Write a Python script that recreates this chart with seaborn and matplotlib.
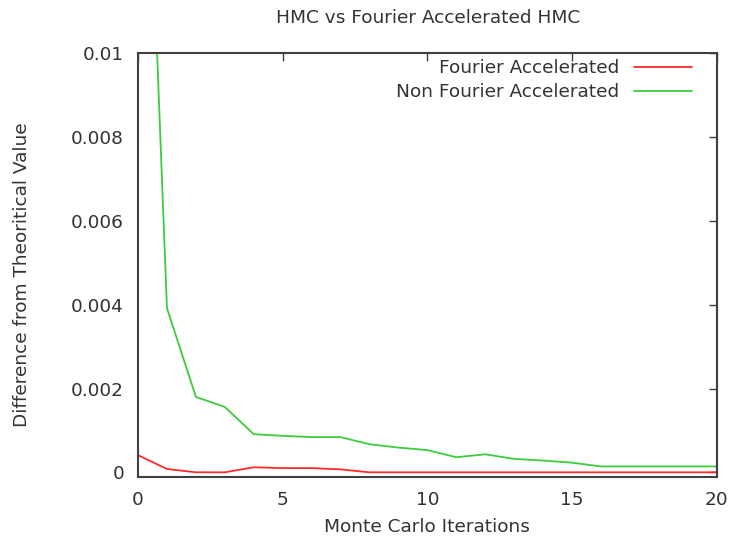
import matplotlib
matplotlib.use("Agg")
import matplotlib.pyplot as plt
import seaborn as sns
import pandas as pd

iterations = list(range(21))
fourier = [0.00041, 0.00008, 0.0, 0.0, 0.00012, 0.0001, 0.0001, 0.00007, 0.0, 0.0, 0.0,
           0.0, 0.0, 0.0, 0.0, 0.0, 0.0, 0.0, 0.0, 0.0, 0.0]
non_fourier = [0.0218, 0.00392, 0.0018, 0.00156, 0.00091, 0.00087, 0.00084, 0.00084, 0.00067,
               0.00059, 0.00053, 0.00036, 0.00043, 0.00032, 0.00028, 0.00023, 0.00014,
               0.00014, 0.00014, 0.00014, 0.00014]
series_names = ["Fourier Accelerated", "Non Fourier Accelerated"]
xticks = [0, 5, 10, 15, 20]
yticks = [0, 0.002, 0.004, 0.006, 0.008, 0.01]
ytick_labels = ["0", "0.002", "0.004", "0.006", "0.008", "0.01"]

df = pd.DataFrame({
    "x": iterations * 2,
    "y": fourier + non_fourier,
    "series": [series_names[0]] * len(iterations) + [series_names[1]] * len(iterations),
})

sns.set_style("white")
plt.rcParams["font.family"] = ["DejaVu Sans"]
FS = 13.3
TXT = "#333333"

fig = plt.figure(figsize=(7.31, 5.45), dpi=100)
ax = fig.add_axes([0.1888, 0.1253, 0.7916, 0.7769])
sns.lineplot(data=df, x="x", y="y", hue="series",
             palette={series_names[0]: "#ff2a2a", series_names[1]: "#3ccc3c"},
             linewidth=1.3, ax=ax)

ax.set_xlim(0, 20)
ax.set_ylim(-0.000105, 0.01)
ax.set_xticks(xticks)
ax.set_xticklabels([str(t) for t in xticks])
ax.set_yticks(yticks)
ax.set_yticklabels(ytick_labels)
ax.tick_params(direction="in", length=6, width=1, colors="#404040",
               labelsize=FS, labelcolor=TXT, top=True, right=True, pad=10)
for s in ax.spines.values():
    s.set_color("#404040")
    s.set_linewidth(1.5)

ax.set_xlabel("Monte Carlo Iterations", fontsize=FS, color=TXT)
ax.set_ylabel("Difference from Theoritical Value", fontsize=FS, color=TXT)
ax.xaxis.set_label_coords(0.5, -0.118)
ax.xaxis.label.set_va("center")
ax.yaxis.set_label_coords(-0.200, 0.476)
ax.yaxis.label.set_va("center")
fig.text(0.585, 1 - 18 / 545, "HMC vs Fourier Accelerated HMC", fontsize=FS,
         color=TXT, ha="center", va="center")

leg = ax.legend(loc="upper right", frameon=False, markerfirst=False, fontsize=FS,
                handlelength=3.1, borderaxespad=0.3, labelspacing=0.3,
                bbox_to_anchor=(0.979, 1.016))
for t in leg.get_texts():
    t.set_color(TXT)
    t.set_ha("right")

fig.savefig("out.png", dpi=100)
